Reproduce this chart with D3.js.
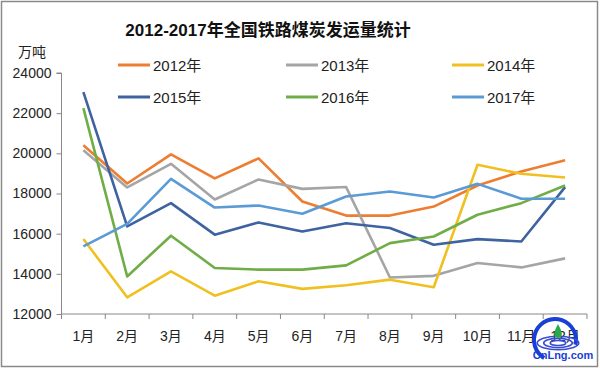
<!DOCTYPE html>
<html>
<head>
<meta charset="utf-8">
<script src="https://d3js.org/d3.v7.min.js"></script>
<style>
  body { margin: 0; background: #fff; }
  text { font-family: "Liberation Sans", "Noto Sans CJK SC", sans-serif; }
</style>
</head>
<body>
<div id="chart"></div>
<script>
const months = ["1月","2月","3月","4月","5月","6月","7月","8月","9月","10月","11月","12月"];
const yTicks = [12000, 14000, 16000, 18000, 20000, 22000, 24000];
const seriesNames = ["2012年","2013年","2014年","2015年","2016年","2017年"];
const seriesColors = ["#ED7D31","#A5A5A5","#F0C020","#3E63A0","#70AD47","#5B9BD5"];

const v2012 = [20400,18500,19950,18750,19750,17600,16900,16900,17350,18400,19100,19650];
const v2013 = [20150,18300,19480,17700,18700,18230,18320,13820,13900,14540,14320,14770];
const v2014 = [15730,12830,14120,12910,13630,13250,13430,13710,13330,19430,18980,18800];
const v2015 = [23050,16360,17520,15950,16560,16110,16520,16280,15450,15730,15610,18320];
const v2016 = [22250,13870,15900,14290,14210,14210,14420,15530,15860,16940,17520,18400];
const v2017 = [15370,16490,18730,17300,17400,16990,17850,18100,17800,18480,17740,17740];
const allSeries = [v2012, v2013, v2014, v2015, v2016, v2017];

const W = 600, H = 368;
const svg = d3.select("#chart").append("svg").attr("width", W).attr("height", H);

// outer border
svg.append("rect").attr("x", 1.5).attr("y", 1.5).attr("width", W - 4).attr("height", H - 3)
   .attr("fill", "#fff").attr("stroke", "#8a8a8a").attr("stroke-width", 1.5);

const x = d3.scaleBand().domain(months).range([61.5, 587]);
const y = d3.scaleLinear().domain([12000, 24000]).range([314, 73]);

// title
svg.append("text").attr("x", 268).attr("y", 36).attr("text-anchor", "middle")
   .attr("font-size", 17).attr("font-weight", "bold").attr("fill", "#111")
   .text("2012-2017年全国铁路煤炭发运量统计");

svg.append("text").attr("x", 32).attr("y", 57).attr("text-anchor", "middle")
   .attr("font-size", 14).attr("fill", "#222").text("万吨");

// y axis
const yAxis = svg.append("g").attr("transform", "translate(61.5,0)")
   .call(d3.axisLeft(y).tickValues(yTicks).tickSize(5).tickFormat(d3.format("d")));
yAxis.select(".domain").attr("stroke", "#888").attr("d", "M-5," + y(24000) + "H0V" + y(12000));
yAxis.selectAll(".tick line").attr("stroke", "#888");
yAxis.selectAll(".tick text").attr("font-size", 14).attr("fill", "#222")
   .attr("font-family", "Liberation Sans").attr("x", -10);

// x axis
const xAxis = svg.append("g").attr("transform", "translate(0,314)")
   .call(d3.axisBottom(x).tickSize(0).tickPadding(14));
xAxis.select(".domain").attr("stroke", "#888").attr("d", "M61.5,0H587");
xAxis.selectAll(".tick text").attr("font-size", 14).attr("fill", "#222")
   .attr("font-family", "Liberation Sans, Noto Sans CJK SC").attr("dy", "0.9em");
// tick marks at category boundaries
svg.append("g").selectAll("line").data(months.concat([null])).join("line")
   .attr("x1", (d, i) => 61.5 + i * x.step()).attr("x2", (d, i) => 61.5 + i * x.step())
   .attr("y1", 314).attr("y2", 319).attr("stroke", "#888");

// lines
const line = d3.line().x((d, i) => x(months[i]) + x.bandwidth() / 2).y(d => y(d));
svg.append("g").selectAll("path").data(allSeries).join("path")
   .attr("d", line).attr("fill", "none")
   .attr("stroke", (d, i) => seriesColors[i]).attr("stroke-width", 2.6)
   .attr("stroke-linejoin", "round");

// legend
const legX = [118, 286, 452], legY = [65, 97];
const leg = svg.append("g").selectAll("g").data(seriesNames).join("g")
   .attr("transform", (d, i) => `translate(${legX[i % 3]},${legY[Math.floor(i / 3)]})`);
leg.append("line").attr("x1", 0).attr("x2", 32).attr("stroke", (d, i) => seriesColors[i])
   .attr("stroke-width", 3);
leg.append("text").attr("x", 35).attr("y", 5.5).attr("font-size", 15).attr("fill", "#222")
   .text(d => d);

// watermark logo (rough)
const logo = svg.append("g").attr("transform", "translate(555,340)");
logo.append("path").attr("d", d3.arc()({innerRadius: 19, outerRadius: 23, startAngle: -2.6, endAngle: 1.8}))
   .attr("fill", "#1a3fd6");
[16, 11, 6].forEach(r => logo.append("ellipse").attr("cx", 3).attr("cy", 3)
   .attr("rx", r * 1.3).attr("ry", r * 0.42).attr("fill", "none").attr("stroke", "#3a4fd0").attr("stroke-width", 1.6));
logo.append("path").attr("d", "M3,-16 C8,-7 8,-3 3,-2 C-2,-3 -2,-7 3,-16Z").attr("fill", "#2aa84a");
logo.append("text").attr("x", 8).attr("y", 19).attr("text-anchor", "middle")
   .attr("font-size", 11).attr("font-weight", "bold").attr("fill", "#1a3fd6").text("CnLng.com");
</script>
</body>
</html>
